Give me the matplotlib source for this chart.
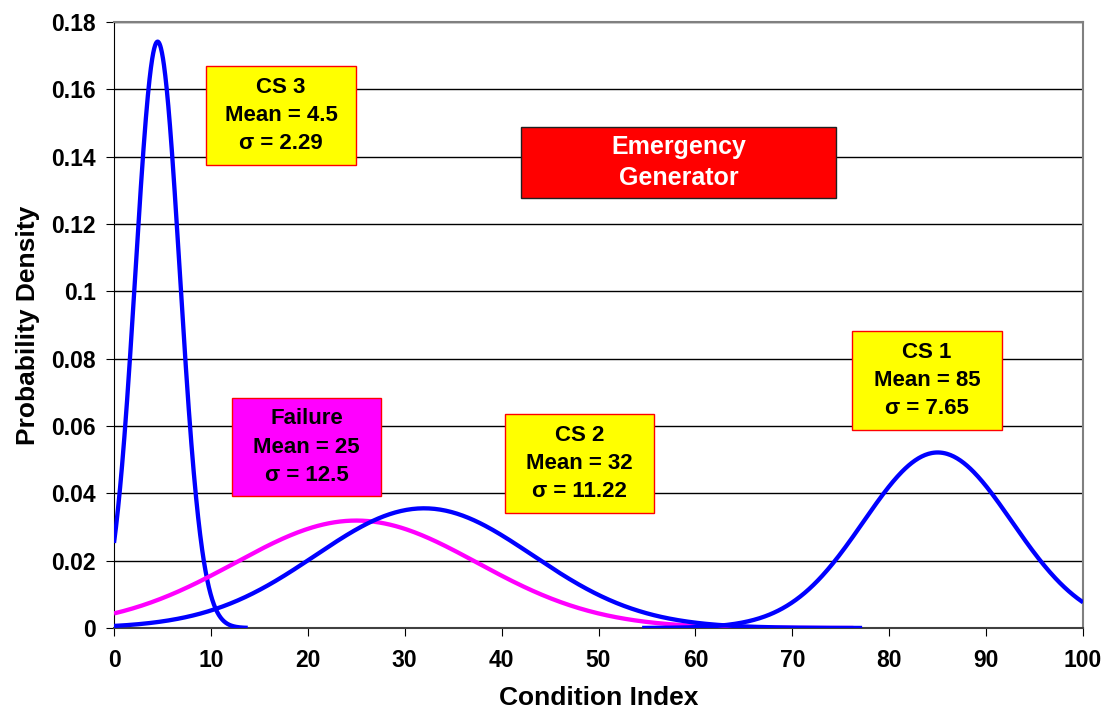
import numpy as np
import matplotlib.pyplot as plt
from matplotlib.patches import Rectangle

plt.rcParams['font.family'] = ['Liberation Sans', 'DejaVu Sans']
plt.rcParams['font.weight'] = 'bold'

# distribution parameters shown on the chart
names = ["CS 3", "Failure", "CS 2", "CS 1"]
means = [4.5, 25, 32, 85]
sigmas = [2.29, 12.5, 11.22, 7.65]
x_start = [0, 0, 0, 54.5]
x_end = [13.8, 76.3, 77.2, 100]
colors = ["#0000FF", "#FF00FF", "#0000FF", "#0000FF"]

fig = plt.figure(figsize=(11.09, 7.15), dpi=100)
ax = fig.add_axes([0.1028, 0.1217, 0.8738, 0.8473])

for m, s, a, b, c in zip(means, sigmas, x_start, x_end, colors):
    x = np.linspace(a, b, 400)
    y = np.exp(-0.5 * ((x - m) / s) ** 2) / (s * np.sqrt(2 * np.pi))
    ax.plot(x, y, color=c, lw=3.1, solid_capstyle='butt', zorder=3)

ax.set_xlim(0, 100)
ax.set_ylim(0, 0.18)
ax.set_xticks(range(0, 101, 10))
ax.set_yticks(np.arange(0, 0.181, 0.02))
ax.set_yticklabels(["0", "0.02", "0.04", "0.06", "0.08", "0.1", "0.12", "0.14", "0.16", "0.18"])
ax.yaxis.grid(True, color='black', lw=1)
ax.set_axisbelow(True)
ax.tick_params(labelsize=16.5, length=6, color='black')
ax.tick_params(axis='x', pad=9)
ax.tick_params(axis='y', pad=7)
for lab in ax.get_xticklabels() + ax.get_yticklabels():
    lab.set_fontweight('bold')
for side in ['top', 'right']:
    ax.spines[side].set_color('#808080')
    ax.spines[side].set_linewidth(1.5)
    ax.spines[side].set_zorder(2.5)
ax.spines['bottom'].set_color('#404040')
ax.spines['bottom'].set_linewidth(1.5)
ax.set_xlabel("Condition Index", fontsize=19, fontweight='bold', labelpad=10)
ax.set_ylabel("Probability Density", fontsize=19, fontweight='bold', labelpad=8)

# annotation boxes (axes fractions)
boxes = [
    ((0.0949, 0.764, 0.1548, 0.1634), "#FFFF00", "#FF0000", "CS 3\nMean = 4.5\nσ = 2.29", "black", 16, 1.45),
    ((0.42, 0.7096, 0.325, 0.1171), "#FF0000", "#202020", "Emergency\nGenerator", "white", 18, 1.4),
    ((0.1218, 0.2178, 0.1537, 0.1617), "#FF00FF", "#FF0000", "Failure\nMean = 25\nσ = 12.5", "black", 16, 1.45),
    ((0.4035, 0.1898, 0.1538, 0.1633), "#FFFF00", "#FF0000", "CS 2\nMean = 32\nσ = 11.22", "black", 16, 1.45),
    ((0.7616, 0.3267, 0.1548, 0.1634), "#FFFF00", "#FF0000", "CS 1\nMean = 85\nσ = 7.65", "black", 16, 1.45),
]
for (bx, by, bw, bh), fc, ec, txt, tc, fs, ls in boxes:
    ax.add_patch(Rectangle((bx, by), bw, bh, transform=ax.transAxes,
                           facecolor=fc, edgecolor=ec, lw=1, zorder=4))
    ax.text(bx + bw / 2, by + bh / 2, txt, transform=ax.transAxes,
            ha='center', va='center', fontsize=fs, fontweight='bold',
            color=tc, linespacing=ls, zorder=5)

fig.savefig("out.png", dpi=100)
